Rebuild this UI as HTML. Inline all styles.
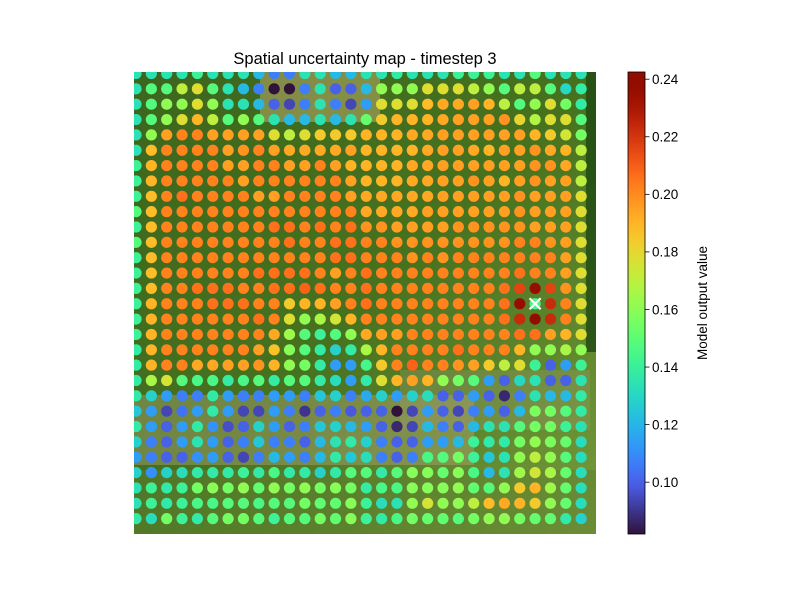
<!DOCTYPE html>
<html><head><meta charset="utf-8"><style>
html,body{margin:0;padding:0;background:#fff;}
svg{display:block;font-family:"Liberation Sans","DejaVu Sans",sans-serif;}
</style></head><body>
<svg id="chart" width="800" height="600" viewBox="0 0 800 600" xmlns="http://www.w3.org/2000/svg">
<defs>
<clipPath id="axclip"><rect x="134" y="72" width="462" height="462"/></clipPath>
<linearGradient id="cbgrad" x1="0" y1="1" x2="0" y2="0"></linearGradient>
<linearGradient id="bgGrad" x1="0" y1="0" x2="1" y2="1">
<stop offset="0" stop-color="#3c661e"/><stop offset="0.5" stop-color="#46721f"/><stop offset="1" stop-color="#789a3c"/>
</linearGradient>
</defs>
<text x="365" y="64" text-anchor="middle" font-size="16.5" fill="#000">Spatial uncertainty map - timestep 3</text>
<g clip-path="url(#axclip)">
<rect x="134" y="72" width="462" height="462" fill="url(#bgGrad)"/>
<rect x="586" y="72" width="10" height="280" fill="#1f4a12" opacity="0.8"/>
<rect x="260" y="72" width="120" height="50" fill="#c8b070" opacity="0.5"/>
<rect x="134" y="395" width="340" height="70" fill="#b8a87a" opacity="0.4"/>
<rect x="400" y="370" width="190" height="60" fill="#a09a70" opacity="0.3"/>
<rect x="134" y="470" width="462" height="64" fill="#5d7f30" opacity="0.5"/>
</g>
<g id="dots" clip-path="url(#axclip)"></g>
<g id="marker"></g>
<rect id="cbar" x="628" y="72" width="17" height="462" fill="url(#cbgrad)" stroke="#000" stroke-width="0.8"/>
<g id="cbticks"></g>
<text transform="translate(707,303) rotate(-90)" text-anchor="middle" font-size="13.5" fill="#000">Model output value</text>
</svg>
<script>
const vmin = 0.082, vmax = 0.2425;
const tickValues = [0.10, 0.12, 0.14, 0.16, 0.18, 0.20, 0.22, 0.24];
const tickLabels = ["0.10","0.12","0.14","0.16","0.18","0.20","0.22","0.24"];
const markerRow = 15, markerCol = 26;
const gridValues = [
[.134,.134,.134,.134,.141,.134,.134,.134,.121,.107,.107,.134,.134,.121,.121,.134,.134,.138,.134,.134,.134,.141,.141,.141,.134,.134,.148,.134,.134,.134],
[.134,.148,.148,.170,.178,.148,.134,.121,.107,.080,.080,.107,.134,.100,.100,.121,.161,.161,.161,.178,.178,.178,.170,.161,.148,.170,.170,.148,.130,.138],
[.134,.148,.161,.161,.178,.161,.134,.134,.121,.100,.094,.107,.134,.107,.094,.114,.178,.178,.178,.188,.193,.193,.195,.190,.170,.148,.161,.178,.155,.138],
[.134,.148,.161,.178,.190,.170,.148,.161,.148,.134,.121,.121,.134,.121,.134,.152,.184,.190,.190,.190,.193,.195,.195,.195,.198,.181,.168,.178,.178,.148],
[.134,.161,.195,.202,.202,.195,.195,.195,.195,.178,.170,.178,.184,.184,.184,.190,.190,.190,.193,.193,.195,.195,.195,.195,.195,.195,.190,.184,.175,.155],
[.134,.188,.202,.202,.202,.202,.195,.198,.202,.195,.193,.193,.193,.193,.195,.190,.190,.190,.190,.193,.195,.195,.193,.190,.195,.195,.198,.193,.190,.170],
[.141,.190,.202,.202,.202,.202,.195,.195,.202,.202,.195,.195,.202,.195,.190,.190,.190,.190,.193,.193,.195,.195,.195,.195,.195,.195,.198,.198,.193,.170],
[.141,.190,.202,.202,.202,.202,.202,.195,.202,.202,.202,.202,.202,.202,.195,.190,.190,.190,.193,.193,.195,.195,.198,.195,.190,.195,.198,.195,.195,.170],
[.141,.188,.202,.206,.202,.202,.202,.202,.195,.195,.202,.202,.202,.202,.195,.193,.193,.193,.193,.193,.195,.195,.195,.195,.195,.198,.195,.195,.195,.178],
[.148,.188,.202,.202,.202,.202,.202,.202,.202,.202,.202,.202,.202,.202,.202,.193,.193,.193,.193,.195,.195,.195,.195,.195,.195,.198,.195,.195,.195,.178],
[.141,.188,.202,.202,.202,.202,.202,.202,.202,.206,.206,.202,.206,.202,.206,.198,.198,.195,.195,.195,.195,.198,.198,.198,.198,.198,.195,.195,.195,.178],
[.148,.188,.202,.202,.202,.202,.202,.202,.202,.202,.206,.202,.202,.206,.206,.202,.202,.198,.198,.198,.198,.198,.198,.198,.198,.202,.202,.198,.195,.178],
[.141,.188,.202,.202,.202,.202,.202,.202,.202,.202,.202,.202,.202,.206,.206,.202,.202,.202,.198,.202,.198,.202,.202,.202,.202,.202,.202,.202,.195,.178],
[.141,.188,.202,.202,.202,.202,.202,.202,.206,.206,.206,.206,.202,.195,.202,.206,.202,.202,.202,.202,.202,.202,.202,.202,.202,.206,.202,.202,.195,.178],
[.141,.188,.202,.202,.206,.206,.206,.202,.202,.206,.206,.209,.206,.202,.202,.206,.202,.202,.202,.202,.202,.202,.202,.202,.206,.216,.236,.216,.198,.178],
[.141,.190,.202,.202,.202,.206,.206,.206,.202,.202,.184,.190,.190,.195,.202,.206,.202,.202,.202,.202,.202,.202,.202,.202,.206,.236,.144,.223,.202,.178],
[.141,.190,.202,.202,.202,.202,.202,.202,.206,.202,.178,.161,.166,.175,.190,.202,.202,.202,.202,.202,.202,.202,.202,.202,.206,.223,.243,.223,.202,.178],
[.141,.190,.202,.202,.202,.202,.202,.202,.202,.193,.164,.148,.141,.148,.161,.193,.195,.195,.202,.202,.202,.202,.202,.202,.202,.206,.206,.195,.190,.178],
[.138,.190,.202,.202,.202,.202,.202,.202,.195,.186,.159,.148,.138,.128,.138,.166,.190,.202,.202,.202,.202,.206,.202,.202,.202,.190,.161,.161,.166,.161],
[.138,.190,.202,.202,.193,.193,.195,.195,.198,.190,.161,.155,.138,.114,.114,.144,.184,.202,.209,.202,.202,.198,.195,.184,.170,.178,.141,.100,.114,.141],
[.138,.166,.175,.148,.145,.145,.138,.145,.148,.138,.148,.148,.138,.132,.114,.137,.178,.190,.195,.190,.161,.155,.148,.114,.100,.130,.134,.100,.100,.134],
[.137,.128,.114,.107,.107,.137,.114,.107,.107,.114,.114,.107,.125,.128,.107,.117,.128,.114,.128,.132,.100,.100,.114,.100,.087,.107,.134,.121,.121,.138],
[.125,.114,.094,.104,.114,.137,.114,.094,.094,.114,.107,.090,.100,.107,.098,.100,.100,.080,.094,.114,.100,.094,.107,.114,.100,.121,.157,.155,.148,.138],
[.137,.114,.100,.114,.137,.111,.096,.100,.128,.114,.100,.107,.125,.128,.121,.114,.100,.087,.094,.121,.107,.100,.121,.134,.134,.148,.155,.155,.141,.134],
[.128,.107,.100,.114,.134,.114,.100,.107,.125,.107,.107,.100,.121,.134,.137,.128,.107,.100,.100,.114,.114,.121,.141,.137,.137,.155,.161,.157,.152,.132],
[.114,.107,.100,.100,.111,.114,.100,.094,.107,.121,.114,.107,.121,.137,.125,.132,.107,.100,.107,.145,.148,.155,.141,.125,.134,.161,.170,.161,.148,.132],
[.128,.111,.128,.132,.137,.137,.137,.141,.137,.145,.137,.137,.128,.137,.148,.148,.137,.148,.159,.159,.152,.159,.145,.121,.134,.164,.175,.166,.152,.132],
[.134,.141,.137,.141,.155,.159,.155,.161,.151,.161,.155,.161,.155,.159,.155,.138,.145,.145,.159,.159,.159,.161,.151,.148,.161,.184,.190,.164,.152,.132],
[.134,.141,.137,.141,.145,.145,.148,.148,.145,.148,.148,.155,.151,.151,.159,.141,.132,.134,.161,.175,.161,.161,.170,.188,.193,.190,.184,.161,.152,.132],
[.137,.132,.155,.141,.137,.148,.155,.155,.148,.141,.148,.148,.155,.151,.159,.141,.137,.145,.155,.152,.151,.148,.155,.161,.161,.155,.152,.151,.137,.128]
];

function turboPoly(t){
  const r=0.13572138+t*(4.61539260+t*(-42.66032258+t*(132.13108234+t*(-152.94239396+t*59.28637943))));
  const g=0.09140261+t*(2.19418839+t*(4.84296658+t*(-14.18503333+t*(4.27729857+t*2.82956604))));
  const b=0.10667330+t*(12.64194608+t*(-60.58204836+t*(110.36276771+t*(-89.90310912+t*27.34824973))));
  return [r,g,b].map(v=>Math.max(0,Math.min(1,v))*255);
}
function turbo(t){
  t=Math.max(0,Math.min(1,t));
  let c;
  if(t<0.1){
    const a=[48,18,59], p=turboPoly(0.1), f=t/0.1;
    c=a.map((v,k)=>v+(p[k]-v)*f);
  } else c=turboPoly(t);
  return `rgb(${Math.round(c[0])},${Math.round(c[1])},${Math.round(c[2])})`;
}
const NS="http://www.w3.org/2000/svg";
const colX = i => 136 + i*15.35;
const rowY = j => 73.5 + j*15.35;
const colorOf = v => turbo((v-vmin)/(vmax-vmin));
const cbY = v => 534 - (v-vmin)/(vmax-vmin)*462;

const dots=document.getElementById('dots');
gridValues.forEach((row,j)=>{
  row.forEach((v,i)=>{
    const c=document.createElementNS(NS,'circle');
    c.setAttribute('cx',colX(i));
    c.setAttribute('cy',rowY(j));
    c.setAttribute('r',5.6);
    c.setAttribute('fill',colorOf(v));
    
    
    dots.appendChild(c);
  });
});

const mk=document.getElementById('marker');
const mx=colX(markerCol), my=rowY(markerRow);
[[-5.5,-5.5,5.5,5.5],[-5.5,5.5,5.5,-5.5]].forEach(d=>{
  const l=document.createElementNS(NS,'line');
  l.setAttribute('x1',mx+d[0]);l.setAttribute('y1',my+d[1]);
  l.setAttribute('x2',mx+d[2]);l.setAttribute('y2',my+d[3]);
  l.setAttribute('stroke','#fff');l.setAttribute('stroke-width','2.2');
  
  
  mk.appendChild(l);
});

const grad=document.getElementById('cbgrad');
for(let k=0;k<=40;k++){
  const s=document.createElementNS(NS,'stop');
  s.setAttribute('offset',k/40);
  s.setAttribute('stop-color',turbo(k/40));
  grad.appendChild(s);
}
const ticks=document.getElementById('cbticks');
tickValues.forEach((v,k)=>{
  const y=cbY(v);
  const l=document.createElementNS(NS,'line');
  l.setAttribute('x1',645);l.setAttribute('x2',649.5);
  l.setAttribute('y1',y);l.setAttribute('y2',y);
  l.setAttribute('stroke','#000');l.setAttribute('stroke-width','0.8');
  
  
  ticks.appendChild(l);
  const t=document.createElementNS(NS,'text');
  t.setAttribute('x',652);t.setAttribute('y',y+4.8);
  t.setAttribute('font-size','13.5');
  t.textContent=tickLabels[k];
  
  
  ticks.appendChild(t);
});
</script>
</body></html>
